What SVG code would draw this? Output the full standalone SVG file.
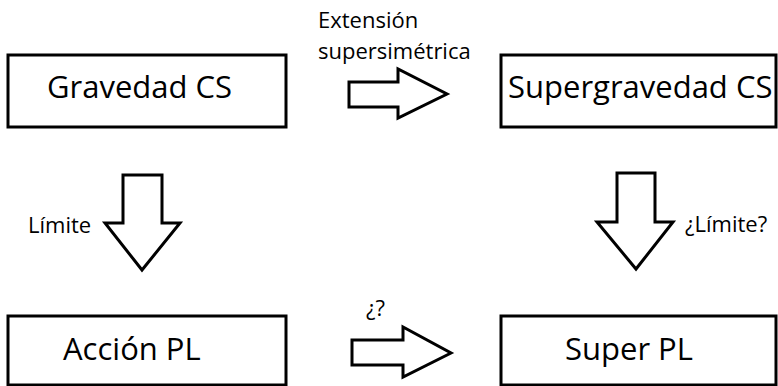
<svg xmlns="http://www.w3.org/2000/svg" width="778" height="386" viewBox="0 0 778 386">
<style>
.box{fill:#fff;stroke:#000;stroke-width:3}
.arr{fill:#fff;stroke:#000;stroke-width:3;stroke-linejoin:miter}
.big{font-family:"Open Sans","DejaVu Sans",sans-serif;font-size:31px;fill:#000}
.sm{font-family:"Open Sans","DejaVu Sans",sans-serif;font-size:22px;fill:#000}
</style>
<rect width="778" height="386" fill="#fff"/>
<g id="connectors">
<polygon class="arr" points="349,82 398,82 398,69 447,94 398,118 398,107 349,107"/>
<polygon class="arr" points="352,340 403,340 403,327 451,353 403,377 403,365 352,365"/>
<polygon class="arr" points="123,175 162,175 162,223 180,223 142,270 105,223 123,223"/>
<polygon class="arr" points="617,173 655,173 655,222 673,222 636,269 597,222 617,222"/>
<text class="sm" x="318" y="28">Extensión</text>
<text class="sm" x="318" y="59">supersimétrica</text>
<text class="sm" x="28" y="233">Límite</text>
<text class="sm" x="685" y="232">¿Límite?</text>
<text class="sm" x="366" y="316">¿?</text>
</g>
<g id="gravedad-cs">
<rect class="box" x="8" y="55" width="278" height="72"/>
<text class="big" x="47" y="98">Gravedad CS</text>
</g>
<g id="supergravedad-cs">
<rect class="box" x="501" y="55" width="275" height="72"/>
<text class="big" x="508" y="98">Supergravedad CS</text>
</g>
<g id="accion-pl">
<rect class="box" x="8" y="316" width="278" height="69"/>
<text class="big" x="63" y="360">Acción PL</text>
</g>
<g id="super-pl">
<rect class="box" x="501" y="316" width="275" height="69"/>
<text class="big" x="565" y="360">Super PL</text>
</g>
</svg>
